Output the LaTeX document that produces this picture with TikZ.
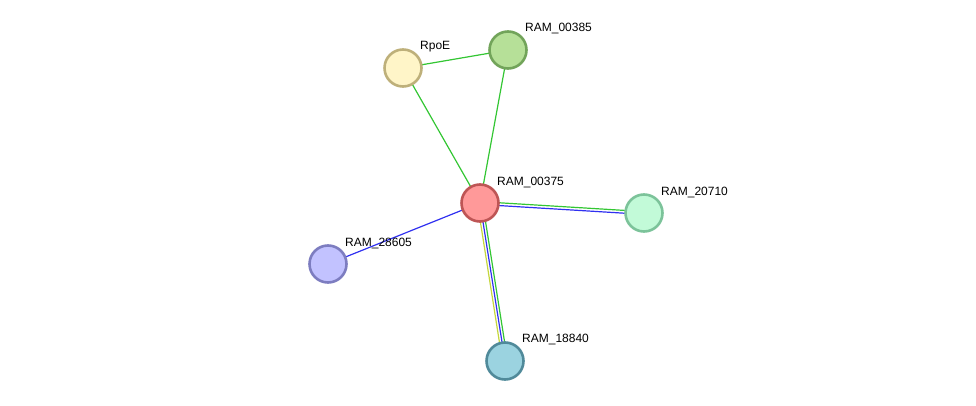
\documentclass[tikz,border=0pt]{standalone}
\usepackage{fontspec}
\setmainfont{Liberation Sans}
\usepackage{tikz}
\usetikzlibrary{backgrounds}

\definecolor{egreen}{HTML}{33C633}
\definecolor{eblue}{HTML}{3030F0}
\definecolor{eyellow}{HTML}{C4D63C}

\tikzset{
  prot/.style={circle,minimum size=37pt,inner sep=0pt,line width=2.6pt},
  plabel/.style={anchor=west,font=\fontsize{12}{13}\selectfont,inner sep=0pt},
  lnk/.style={line width=1.2pt}
}

\begin{document}
\begin{tikzpicture}[x=1pt,y=-1pt]
  \useasboundingbox (0,0) rectangle (976,406);
  \node[prot,fill={rgb,255:red,255;green,153;blue,153},draw={rgb,255:red,190;green,85;blue,85}] (r375) at (480,203) {};
  \node[prot,fill={rgb,255:red,255;green,245;blue,200},draw={rgb,255:red,190;green,176;blue,122}] (rpoe) at (403,68) {};
  \node[prot,fill={rgb,255:red,182;green,224;blue,152},draw={rgb,255:red,114;green,164;blue,90}] (r385) at (508,50) {};
  \node[prot,fill={rgb,255:red,194;green,250;blue,216},draw={rgb,255:red,124;green,195;blue,154}] (r710) at (644,213) {};
  \node[prot,fill={rgb,255:red,194;green,194;blue,255},draw={rgb,255:red,125;green,125;blue,192}] (r605) at (328,264) {};
  \node[prot,fill={rgb,255:red,155;green,211;blue,224},draw={rgb,255:red,80;green,138;blue,154}] (r840) at (505,361) {};
  % labels
  \node[plabel] (l375) at (497,183) {RAM\_00375};
  \node[plabel] (lpoe) at (420,47) {RpoE};
  \node[plabel] (l385) at (525,29) {RAM\_00385};
  \node[plabel] (l710) at (661,193) {RAM\_20710};
  \node[plabel] (l605) at (345,244) {RAM\_28605};
  \node[plabel] (l840) at (522,340) {RAM\_18840};
  \begin{scope}[on background layer]
    \draw[lnk,egreen] (rpoe.center) -- (r385.center);
    \draw[lnk,egreen] (rpoe.center) -- (r375.center);
    \draw[lnk,egreen] (r385.center) -- (r375.center);
    \draw[lnk,eblue] (r605.center) -- (r375.center);
    \draw[lnk,egreen,transform canvas={yshift=1.4pt}] (r375.center) -- (r710.center);
    \draw[lnk,eblue,transform canvas={yshift=-1.4pt}] (r375.center) -- (r710.center);
    \draw[lnk,eyellow,transform canvas={xshift=-2.6pt}] (r375.center) -- (r840.center);
    \draw[lnk,eblue] (r375.center) -- (r840.center);
    \draw[lnk,egreen,transform canvas={xshift=2.6pt}] (r375.center) -- (r840.center);
  \end{scope}
\end{tikzpicture}
\end{document}
